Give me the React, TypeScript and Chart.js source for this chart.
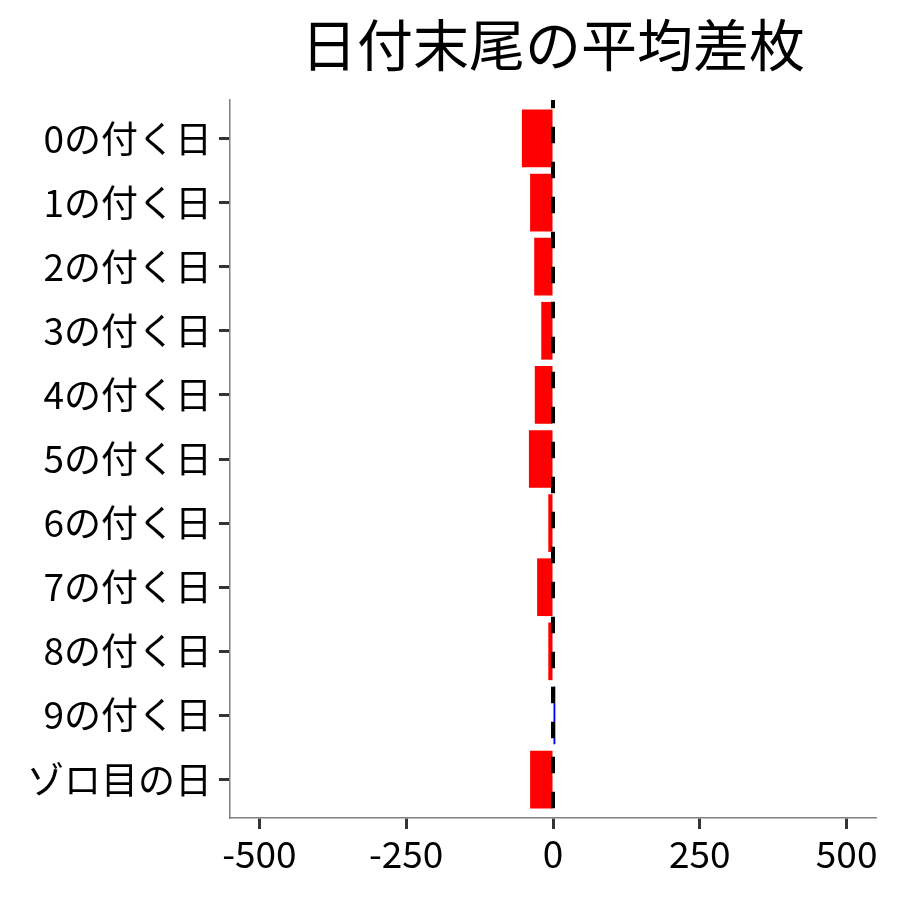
import { useEffect, useRef } from "react"
import { Chart, registerables } from "chart.js"
import type { Plugin } from "chart.js"

Chart.register(...registerables)

const TITLE = "日付末尾の平均差枚"
const dayLabels = [
  "0の付く日",
  "1の付く日",
  "2の付く日",
  "3の付く日",
  "4の付く日",
  "5の付く日",
  "6の付く日",
  "7の付く日",
  "8の付く日",
  "9の付く日",
  "ゾロ目の日",
]
const avgDiff = [-53, -39, -32, -20, -31, -41, -8, -27, -8, 4, -39]
const xTicks = [-500, -250, 0, 250, 500]

const FONT = '"Noto Sans CJK JP", "Noto Sans", sans-serif'

// title centred over the panel + dashed zero line
const extras: Plugin<"bar"> = {
  id: "extras",
  afterDatasetsDraw(chart) {
    const { ctx, chartArea, scales } = chart
    const x0 = scales.x.getPixelForValue(0)
    ctx.save()
    ctx.strokeStyle = "#000"
    ctx.lineWidth = 4
    ctx.setLineDash([16.5, 18.5])
    ctx.lineDashOffset = 8.3
    ctx.beginPath()
    ctx.moveTo(x0, chartArea.top)
    ctx.lineTo(x0, chartArea.bottom)
    ctx.stroke()
    ctx.restore()
  },
  afterDraw(chart) {
    const { ctx, chartArea } = chart
    ctx.save()
    ctx.fillStyle = "#000"
    ctx.font = `56px ${FONT}`
    ctx.textAlign = "center"
    ctx.textBaseline = "middle"
    ctx.fillText(TITLE, (chartArea.left + chartArea.right) / 2, 45)
    ctx.restore()
  },
}

export default function App() {
  const chartRef = useRef<HTMLCanvasElement>(null)
  const chartInstance = useRef<Chart | null>(null)

  useEffect(() => {
    document.body.style.margin = "0"
    if (!chartRef.current) return
    if (chartInstance.current) chartInstance.current.destroy()
    const ctx = chartRef.current.getContext("2d")
    if (!ctx) return

    const points = avgDiff.map((v, i) => ({ x: v, y: i + 1 }))

    chartInstance.current = new Chart(ctx, {
      type: "bar",
      data: {
        datasets: [
          {
            data: points as any,
            backgroundColor: avgDiff.map((v) => (v >= 0 ? "#0000FF" : "#FF0000")),
            borderWidth: 0,
            barPercentage: 0.9,
            categoryPercentage: 1,
          },
        ],
      },
      options: {
        indexAxis: "y",
        animation: false,
        responsive: true,
        maintainAspectRatio: false,
        layout: { padding: { top: 100, right: 24, bottom: 0, left: 0 } },
        plugins: {
          legend: { display: false },
          title: { display: false },
          tooltip: { enabled: false },
        },
        scales: {
          x: {
            type: "linear",
            min: -550,
            max: 550,
            afterBuildTicks: (scale) => {
              scale.ticks = xTicks.map((v) => ({ value: v }))
            },
            afterFit: (scale) => {
              scale.height = 82
            },
            grid: {
              drawOnChartArea: false,
              drawTicks: true,
              tickLength: 11,
              tickColor: "#333",
              tickWidth: 3,
            },
            border: { display: true, color: "#7f7f7f", width: 1.5 },
            ticks: {
              color: "#000",
              padding: 3,
              maxRotation: 0,
              font: { family: FONT, size: 37 },
            },
          },
          y: {
            type: "linear",
            min: 0.4,
            max: 11.6,
            reverse: true,
            offset: false,
            afterBuildTicks: (scale) => {
              scale.ticks = dayLabels.map((_, i) => ({ value: i + 1 }))
            },
            afterFit: (scale) => {
              scale.width = 230
            },
            grid: {
              offset: false,
              drawOnChartArea: false,
              drawTicks: true,
              tickLength: 11,
              tickColor: "#333",
              tickWidth: 3,
            },
            border: { display: true, color: "#7f7f7f", width: 1.5 },
            ticks: {
              color: "#000",
              padding: 7,
              autoSkip: false,
              font: { family: FONT, size: 37 },
              callback: (value) => dayLabels[Number(value) - 1] ?? "",
            },
          },
        },
      },
      plugins: [extras],
    })

    return () => {
      if (chartInstance.current) {
        chartInstance.current.destroy()
        chartInstance.current = null
      }
    }
  }, [])

  return (
    <div style={{ width: 900, height: 900, position: "relative", background: "#fff" }}>
      <canvas ref={chartRef} />
    </div>
  )
}
